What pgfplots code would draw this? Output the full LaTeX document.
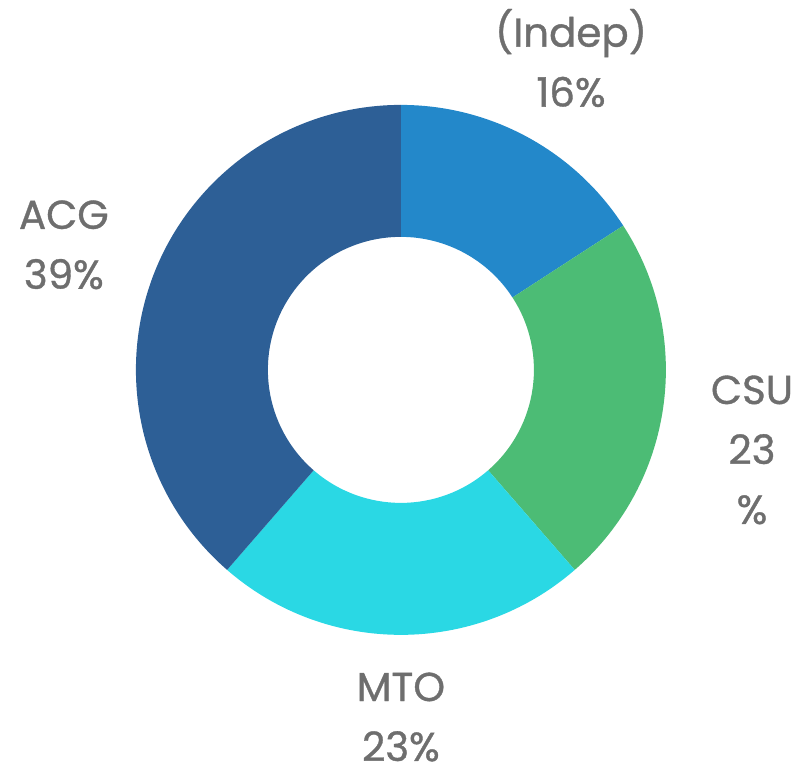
\documentclass[border=0pt]{standalone}
\usepackage{pgfplots}
\usepackage{pgfplotstable}
\usepackage{fontspec}
\setmainfont{Poppins}[FakeBold=0.9]
\pgfplotsset{compat=1.18}

\definecolor{cIndep}{HTML}{2388CA}
\definecolor{cCSU}{HTML}{4CBC75}
\definecolor{cMTO}{HTML}{2AD8E4}
\definecolor{cACG}{HTML}{2D5F96}
\definecolor{labelgray}{HTML}{6E6E6E}

\tikzset{lbl/.style={font=\fontsize{13}{19.3}\selectfont, text=labelgray, align=center, inner sep=0pt}}

% share of each segment, clockwise from 12 o'clock
\pgfplotstableread{
name  pct  col
Indep 16   cIndep
CSU   23   cCSU
MTO   23   cMTO
ACG   39   cACG
}\shares

\begin{document}
\begin{tikzpicture}
\begin{axis}[
  x=3cm, y=3cm,
  hide axis,
  clip=false,
  xmin=-1.513, xmax=1.525,
  ymin=-1.532, ymax=1.396,
]
  \path (axis cs:-1.513,-1.532) rectangle (axis cs:1.525,1.396);
  \pgfplotstablegetrowsof{\shares}
  \pgfmathtruncatemacro\nrows{\pgfplotsretval-1}
  \def\total{0}
  \pgfplotsforeachungrouped \i in {0,...,\nrows}{%
    \pgfplotstablegetelem{\i}{pct}\of\shares
    \pgfmathsetmacro\total{\total+\pgfplotsretval}%
  }
  \def\cum{0}
  \pgfplotsforeachungrouped \i in {0,...,\nrows}{%
    \pgfplotstablegetelem{\i}{pct}\of\shares \let\val\pgfplotsretval
    \pgfplotstablegetelem{\i}{col}\of\shares \let\col\pgfplotsretval
    \pgfmathsetmacro\a{90-\cum/\total*360}%
    \pgfmathsetmacro\b{90-(\cum+\val)/\total*360}%
    \pgfmathsetmacro\ax{cos(\a)}\pgfmathsetmacro\ay{sin(\a)}%
    \pgfmathsetmacro\bx{0.502*cos(\b)}\pgfmathsetmacro\by{0.502*sin(\b)}%
    \edef\temp{\noexpand\fill[\col] (axis cs:\ax,\ay)
      arc[start angle=\a, end angle=\b, radius=3cm]
      -- (axis cs:\bx,\by)
      arc[start angle=\b, end angle=\a, radius=1.506cm] -- cycle;}%
    \temp
    \pgfmathsetmacro\cum{\cum+\val}%
  }
  \node[lbl] at (axis cs:0.642,1.177) {(Indep)\\16\%};
  \node[lbl] at (axis cs:1.325,-0.302) {CSU\\23\\\%};
  \node[lbl] at (axis cs:0,-1.310) {MTO\\23\%};
  \node[lbl] at (axis cs:-1.272,0.472) {ACG\\39\%};
\end{axis}
\end{tikzpicture}
\end{document}
